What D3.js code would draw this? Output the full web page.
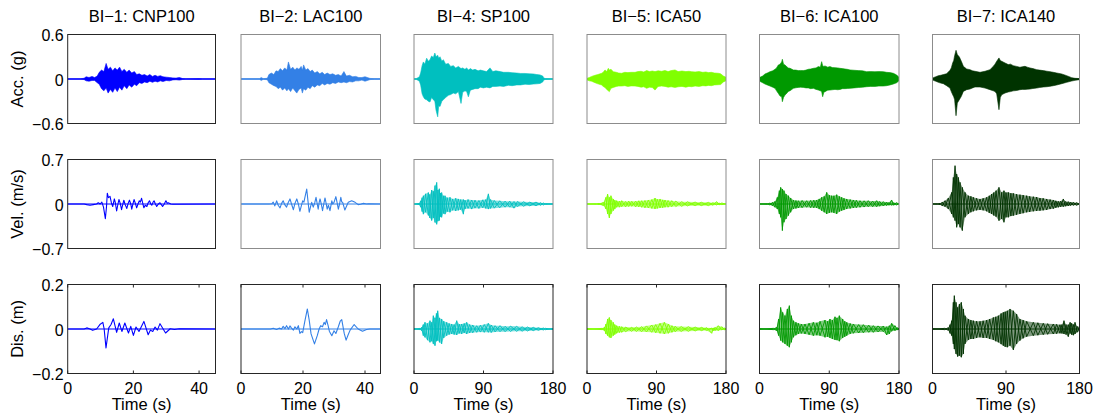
<!DOCTYPE html>
<html><head><meta charset="utf-8">
<script src="https://cdn.jsdelivr.net/npm/d3@7/dist/d3.min.js"></script>
<style>body{margin:0;background:#fff}svg{display:block}text{font-family:"Liberation Sans",Arial,Helvetica,sans-serif;fill:#000}</style>
</head><body>
<svg id="chart" width="1100" height="419"></svg>
<script>
// ---------- labels ----------
const titles = ["BI\u22121: CNP100","BI\u22122: LAC100","BI\u22124: SP100","BI\u22125: ICA50","BI\u22126: ICA100","BI\u22127: ICA140"];
const colors = ["#0000ff","#3380e6","#00bfbf","#80ff00","#009900","#003300"];
const durations = [45,45,180,180,180,180];
const xTicksShort = [0,20,40];
const xTicksLong = [0,90,180];
const rowLabels = ["Acc. (g)","Vel. (m/s)","Dis. (m)"];
const rowLimits = [0.6,0.7,0.2];
const yTickLabels = [["0.6","0","\u22120.6"],["0.7","0","\u22120.7"],["0.2","0","\u22120.2"]];

// ---------- envelopes [t, upper, lower] and series [t, value] ----------
const accCNP100 = [[0,0.004,-0.004],[4,0.004,-0.004],[5,0.01,-0.008],[5.6,0.03,-0.025],[6.5,0.02,-0.03],[7.4,0.035,-0.02],[8.2,0.02,-0.02],[9,0.04,-0.05],[9.6,0.09,-0.07],[10.3,0.12,-0.13],[11,0.10,-0.16],[11.7,0.21,-0.12],[12.3,0.13,-0.19],[13,0.16,-0.14],[13.7,0.11,-0.18],[14.4,0.15,-0.12],[15.1,0.12,-0.17],[15.8,0.16,-0.11],[16.5,0.10,-0.15],[17.2,0.13,-0.09],[18,0.09,-0.13],[18.7,0.12,-0.08],[19.5,0.08,-0.11],[20.3,0.10,-0.07],[21,0.06,-0.09],[21.8,0.07,-0.05],[22.6,0.05,-0.06],[23.4,0.06,-0.04],[24.2,0.04,-0.05],[25,0.06,-0.03],[25.8,0.035,-0.045],[26.6,0.05,-0.03],[27.4,0.035,-0.04],[28.2,0.045,-0.025],[29,0.03,-0.035],[30,0.025,-0.02],[31,0.02,-0.025],[32,0.015,-0.012],[33,0.012,-0.01],[34,0.02,-0.015],[35,0.006,-0.006],[36,0.004,-0.004],[40,0.006,-0.006],[41,0.003,-0.003],[45,0.003,-0.003]];
const velCNP100 = [[0,0],[5,0],[5.8,-0.01],[6.8,-0.02],[7.8,-0.01],[8.8,0],[9.3,0.02],[9.9,0],[10.4,0.03],[10.9,-0.05],[11.46,-0.23],[11.8,-0.05],[12.06,0.17],[12.4,0.10],[12.88,0.12],[13.3,0.02],[13.7,-0.04],[14.2,0.08],[14.5,0.02],[14.9,-0.11],[15.3,0],[15.6,0.07],[16,0.01],[16.4,-0.09],[16.8,0],[17.1,0.06],[17.5,-0.01],[18,-0.07],[18.4,0.01],[18.8,0.06],[19.2,0],[19.5,-0.08],[19.9,0.01],[20.2,0.07],[20.6,0.01],[21,-0.06],[21.4,0],[21.8,0.05],[22.1,0.03],[22.5,0.09],[22.9,0],[23.2,-0.06],[23.6,-0.02],[24.1,-0.04],[24.5,0.02],[24.9,0.05],[25.3,0],[25.6,-0.02],[26,0.03],[26.3,0.05],[26.7,0],[27.1,-0.04],[27.6,0],[28.1,0.02],[28.5,-0.01],[28.9,-0.04],[29.4,0],[29.9,0.05],[30.3,0.01],[30.6,0.02],[31.4,0],[32,-0.005],[45,0]];
const disCNP100 = [[0,0],[5,0],[5.8,0.005],[6.8,0],[7.6,-0.006],[8.8,0],[9.8,0.02],[10.7,0.03],[11.1,0],[11.66,-0.085],[12.5,0.005],[13.2,0.02],[13.9,0.046],[14.9,-0.015],[15.7,0.027],[16.5,-0.011],[17.4,0.027],[18.5,-0.018],[19.2,0.012],[20,-0.029],[20.8,0.009],[21.2,0],[21.7,-0.011],[23.2,0.034],[24.5,-0.026],[25.2,-0.005],[25.9,-0.011],[26.6,0.009],[27.3,-0.005],[28.1,0.024],[29.8,-0.018],[31.2,0.001],[32.5,-0.002],[34,0.001],[45,0]];

const accLAC100 = [[0,0.003,-0.003],[6,0.003,-0.003],[6.5,0.02,-0.02],[7.2,0.004,-0.004],[8.5,0.01,-0.01],[9,0.06,-0.05],[9.8,0.08,-0.07],[10.6,0.06,-0.09],[11.3,0.11,-0.10],[12,0.10,-0.13],[12.7,0.14,-0.11],[13.4,0.11,-0.15],[14.1,0.15,-0.12],[14.8,0.12,-0.16],[15.3,0.23,-0.13],[16,0.13,-0.17],[16.7,0.16,-0.12],[17.4,0.12,-0.16],[18,0.15,-0.19],[18.7,0.13,-0.14],[19.4,0.17,-0.12],[19.8,0.12,-0.19],[20.2,0.19,-0.13],[20.9,0.12,-0.15],[21.6,0.14,-0.11],[22.3,0.10,-0.13],[23,0.12,-0.09],[23.8,0.08,-0.11],[24.6,0.10,-0.08],[25.4,0.07,-0.09],[26.2,0.09,-0.06],[27,0.06,-0.08],[27.8,0.08,-0.06],[28.7,0.06,-0.07],[29.6,0.07,-0.05],[30.5,0.05,-0.06],[31.4,0.06,-0.04],[32.3,0.04,-0.05],[33.2,0.10,-0.04],[34,0.04,-0.05],[35,0.05,-0.035],[36,0.03,-0.04],[37,0.035,-0.025],[38,0.02,-0.025],[39,0.02,-0.015],[40,0.03,-0.03],[40.8,0.02,-0.02],[41.6,0.008,-0.008],[43,0.005,-0.005],[45,0.004,-0.004]];
const velLAC100 = [[0,0],[9,0],[10,0.005],[10.4,0.03],[10.9,-0.03],[11.5,0.05],[12,-0.02],[12.6,-0.06],[13.1,0.01],[13.6,0.05],[14.1,-0.01],[14.7,-0.05],[15.2,0.02],[15.8,0.08],[16.3,0],[16.9,-0.09],[17.4,0.01],[18,0.08],[18.5,0],[19,-0.115],[19.5,-0.02],[19.9,0.05],[20.3,0.03],[20.6,0.10],[21.2,0.236],[21.6,0.05],[22,-0.13],[22.4,-0.05],[22.8,0.026],[23.3,-0.05],[23.8,0.02],[24.2,0.105],[24.6,0],[24.9,-0.08],[25.2,0.02],[25.5,0.08],[25.9,0],[26.3,-0.105],[26.7,0],[27.1,0.095],[27.5,0],[27.8,-0.08],[28.2,-0.02],[28.7,-0.105],[29.3,0.05],[29.6,0],[30,0.026],[30.6,0.115],[31,0.02],[31.4,-0.08],[31.8,0],[32.2,0.105],[32.5,0.03],[32.8,0.026],[33.5,-0.095],[34,-0.04],[34.6,0.026],[35.7,0.05],[36.8,0.026],[37.8,-0.01],[38.6,-0.005],[39.5,0.01],[40.5,0],[41.1,0.003],[45,0]];
const disLAC100 = [[0,0],[9.5,0],[10.4,0.003],[11.5,-0.002],[12.3,0.004],[13.1,0],[13.6,0.012],[14.2,0.002],[14.7,0.015],[15.3,0],[15.8,0.014],[16.3,0.004],[16.9,-0.005],[17.4,0.01],[18,0],[18.5,0.015],[19,-0.02],[19.5,-0.012],[19.9,-0.016],[20.6,0.035],[21.4,0.09],[22,0.04],[22.6,-0.022],[23.7,-0.067],[24.6,-0.03],[25.2,0],[25.7,0.015],[26.3,0.01],[26.8,0.03],[27.2,0.02],[27.6,0.042],[28.1,0.015],[28.5,-0.01],[29.3,-0.03],[29.8,-0.015],[30,-0.008],[30.6,-0.02],[31.4,0.01],[32,0.035],[32.5,0.042],[33.3,-0.02],[33.9,-0.05],[34.6,-0.025],[35.2,-0.005],[36.5,0.02],[37.8,0],[39.2,-0.01],[40.5,-0.002],[41.5,0],[45,0]];

const accSP100 = [[0,0.004,-0.004],[3.5,0.008,-0.008],[7,0.03,-0.03],[8.6,0.08,-0.08],[10.5,0.18,-0.2],[12.1,0.23,-0.24],[14,0.2,-0.27],[16.4,0.28,-0.28],[18.5,0.24,-0.3],[20.7,0.26,-0.31],[22.8,0.31,-0.25],[25,0.29,-0.28],[27,0.35,-0.3],[28.5,0.3,-0.42],[30.7,0.32,-0.51],[32,0.28,-0.36],[33.7,0.3,-0.37],[36,0.24,-0.3],[38,0.26,-0.28],[41,0.2,-0.25],[44.5,0.21,-0.22],[47.5,0.17,-0.21],[50.9,0.18,-0.19],[54,0.15,-0.2],[57.5,0.17,-0.17],[60.9,0.14,-0.33],[63,0.15,-0.18],[66,0.13,-0.16],[68.2,0.15,-0.17],[70.4,0.12,-0.24],[73,0.14,-0.15],[76,0.12,-0.14],[79,0.13,-0.13],[83,0.11,-0.13],[86,0.12,-0.11],[89.8,0.11,-0.12],[94,0.1,-0.11],[98.4,0.15,-0.12],[102,0.1,-0.1],[106,0.11,-0.1],[111.4,0.1,-0.095],[116,0.09,-0.1],[122.2,0.09,-0.085],[127,0.085,-0.09],[133,0.08,-0.08],[138,0.075,-0.08],[143.8,0.075,-0.07],[149,0.07,-0.075],[154.5,0.068,-0.068],[159,0.06,-0.065],[163.2,0.055,-0.06],[166.7,0.04,-0.04],[168,0.015,-0.015],[170,0.006,-0.006],[180,0.004,-0.004]];
const velSP100 = [[0,0.003,-0.003],[7,0.01,-0.01],[8.6,0.05,-0.05],[10.5,0.1,-0.12],[12.1,0.13,-0.16],[15,0.16,-0.13],[18.6,0.18,-0.18],[20.5,0.15,-0.22],[22.9,0.22,-0.26],[25,0.2,-0.22],[27.2,0.29,-0.29],[29.4,0.34,-0.32],[31,0.22,-0.27],[32.8,0.24,-0.26],[34.3,0.17,-0.2],[35.8,0.18,-0.21],[38,0.13,-0.15],[40.2,0.13,-0.16],[43,0.1,-0.12],[46.6,0.105,-0.13],[50,0.08,-0.1],[54,0.09,-0.11],[57.4,0.08,-0.1],[60.5,0.07,-0.09],[63.9,0.07,-0.16],[66,0.06,-0.08],[70,0.07,-0.07],[74.7,0.063,-0.08],[79,0.06,-0.065],[84,0.055,-0.07],[89,0.065,-0.06],[93,0.07,-0.07],[96.3,0.16,-0.08],[99,0.07,-0.07],[104,0.055,-0.065],[111,0.05,-0.06],[118,0.045,-0.05],[124,0.045,-0.05],[129.5,0.04,-0.065],[134,0.04,-0.04],[142,0.035,-0.035],[150,0.03,-0.03],[158,0.03,-0.028],[164,0.02,-0.02],[167.5,0.016,-0.016],[170,0.006,-0.006],[180,0.004,-0.004]];
const disSP100 = [[0,0.002,-0.002],[8,0.003,-0.003],[9.9,0.0075,-0.0075],[12,0.02,-0.03],[14.2,0.03,-0.0375],[17.5,0.025,-0.05],[20.7,0.0375,-0.06],[23,0.03,-0.055],[25,0.06,-0.067],[27.2,0.05,-0.075],[29,0.07,-0.055],[30.7,0.082,-0.052],[33,0.05,-0.06],[35.8,0.045,-0.067],[38.5,0.035,-0.04],[42.3,0.03,-0.03],[45.5,0.025,-0.025],[48.8,0.0225,-0.0225],[52,0.02,-0.025],[55.3,0.0375,-0.027],[58.5,0.022,-0.02],[61.7,0.0225,-0.022],[65,0.025,-0.018],[68.2,0.03,-0.0225],[72,0.02,-0.018],[76,0.018,-0.017],[81.2,0.015,-0.015],[86,0.017,-0.014],[91,0.02,-0.015],[96.3,0.0255,-0.015],[100,0.018,-0.016],[105,0.015,-0.013],[111.4,0.015,-0.012],[118,0.012,-0.012],[125,0.013,-0.011],[133,0.012,-0.0105],[140,0.01,-0.01],[147,0.009,-0.009],[154.5,0.0075,-0.0075],[161,0.006,-0.006],[167.5,0.0045,-0.0045],[170,0.003,-0.003],[180,0.002,-0.002]];

const accICA50 = [[0,0.009,-0.012],[3,0.02,-0.025],[6,0.035,-0.03],[10.4,0.05,-0.05],[14,0.06,-0.065],[19,0.077,-0.081],[21,0.09,-0.1],[23.3,0.122,-0.113],[25.5,0.1,-0.14],[27.6,0.144,-0.158],[28.9,0.12,-0.171],[31,0.13,-0.126],[34.1,0.099,-0.113],[38,0.09,-0.1],[41,0.08,-0.095],[44.9,0.077,-0.095],[49,0.09,-0.09],[53,0.086,-0.1],[57,0.09,-0.093],[62.2,0.09,-0.095],[66,0.1,-0.1],[70,0.104,-0.11],[73.5,0.095,-0.105],[77.3,0.113,-0.126],[81,0.1,-0.11],[84.5,0.108,-0.115],[88.1,0.1,-0.149],[92,0.11,-0.1],[96.7,0.104,-0.095],[101,0.115,-0.1],[105,0.1,-0.11],[109,0.113,-0.105],[114,0.122,-0.113],[118,0.1,-0.105],[123,0.108,-0.1],[128,0.1,-0.11],[132,0.104,-0.1],[135.6,0.099,-0.104],[140,0.095,-0.095],[145,0.1,-0.1],[150,0.09,-0.09],[154,0.095,-0.093],[157.2,0.086,-0.086],[161,0.09,-0.09],[165,0.081,-0.08],[170.1,0.077,-0.077],[173,0.07,-0.075],[176.6,0.04,-0.04],[180,0.023,-0.023]];
const velICA50 = [[0,0.002,-0.002],[12,0.004,-0.004],[15.5,0.01,-0.01],[21.5,0.026,-0.026],[24.5,0.105,-0.079],[26.7,0.157,-0.157],[28.9,0.105,-0.22],[31,0.131,-0.157],[34,0.079,-0.105],[36,0.06,-0.08],[38.4,0.052,-0.052],[42,0.045,-0.05],[44.9,0.052,-0.042],[50,0.04,-0.045],[54,0.045,-0.04],[57.9,0.042,-0.037],[63,0.045,-0.045],[67,0.05,-0.045],[70.8,0.052,-0.052],[75,0.055,-0.06],[79.5,0.063,-0.063],[84,0.07,-0.07],[88.1,0.094,-0.079],[91,0.075,-0.07],[94.6,0.079,-0.063],[98,0.065,-0.06],[101,0.063,-0.052],[105,0.055,-0.05],[109.7,0.052,-0.042],[115,0.045,-0.04],[122.7,0.037,-0.037],[130,0.035,-0.03],[140,0.031,-0.026],[148,0.028,-0.026],[157.2,0.026,-0.026],[163,0.02,-0.02],[168,0.037,-0.016],[171,0.015,-0.015],[174.5,0.016,-0.01],[180,0.005,-0.005]];
const disICA50 = [[0,0.002,-0.002],[20,0.003,-0.003],[22.5,0.008,-0.008],[24.5,0.0225,-0.0225],[26.7,0.045,-0.03],[28.9,0.052,-0.0375],[31,0.04,-0.04],[34,0.03,-0.03],[36,0.02,-0.025],[38.4,0.015,-0.0195],[42,0.012,-0.016],[44.9,0.0105,-0.015],[50,0.009,-0.012],[57.9,0.0075,-0.0105],[64,0.009,-0.011],[70.8,0.0105,-0.012],[77,0.014,-0.013],[83.8,0.018,-0.015],[89,0.02,-0.017],[94.6,0.0255,-0.0195],[100.2,0.03,-0.0225],[105.4,0.0225,-0.0195],[110,0.015,-0.015],[114,0.012,-0.012],[122,0.011,-0.011],[131.3,0.0105,-0.0105],[140,0.009,-0.009],[148.5,0.0075,-0.0075],[155,0.006,-0.007],[161.5,0.0045,-0.0195],[163.5,0.005,-0.008],[165.8,0.0075,-0.0075],[170,0.015,-0.0075],[174.5,0.0105,-0.0045],[178,0.004,-0.004],[180,0.002,-0.002]];

const accICA100 = [[0,0.01,-0.01],[0.6,0.0225,-0.032],[4,0.04,-0.05],[7.1,0.068,-0.068],[10,0.08,-0.08],[13.5,0.099,-0.095],[17,0.11,-0.11],[20,0.131,-0.126],[22,0.15,-0.16],[24.3,0.189,-0.194],[26.5,0.2,-0.23],[28.6,0.23,-0.239],[29.5,0.266,-0.306],[31,0.2,-0.25],[32.9,0.189,-0.216],[35.1,0.167,-0.194],[37,0.15,-0.17],[39.4,0.144,-0.158],[43.7,0.122,-0.126],[47,0.12,-0.118],[50.1,0.113,-0.113],[53,0.115,-0.11],[56.6,0.113,-0.113],[60,0.12,-0.12],[63,0.131,-0.12],[66,0.135,-0.13],[69.5,0.144,-0.126],[73,0.15,-0.14],[75.9,0.167,-0.149],[78.5,0.16,-0.16],[80.2,0.234,-0.17],[81.5,0.18,-0.239],[83,0.17,-0.18],[84.5,0.176,-0.171],[88,0.16,-0.15],[90.9,0.167,-0.149],[94,0.155,-0.145],[97.4,0.153,-0.14],[101,0.15,-0.145],[103.9,0.144,-0.14],[107,0.14,-0.13],[110.3,0.135,-0.13],[113.5,0.13,-0.128],[116.8,0.122,-0.126],[122,0.118,-0.12],[127.5,0.113,-0.115],[133,0.11,-0.11],[138.3,0.099,-0.104],[143,0.1,-0.1],[149,0.099,-0.1],[154,0.1,-0.095],[159.8,0.099,-0.095],[164,0.09,-0.09],[168.4,0.086,-0.08],[172.7,0.077,-0.068],[177,0.054,-0.05],[180,0.0225,-0.0225]];
const velICA100 = [[0,0.002,-0.002],[10,0.005,-0.005],[13.5,0.015,-0.015],[17,0.026,-0.03],[20,0.042,-0.052],[23,0.105,-0.079],[25.6,0.21,-0.157],[27.3,0.262,-0.21],[29.5,0.236,-0.419],[31.6,0.21,-0.288],[34.2,0.157,-0.236],[37.2,0.131,-0.183],[40.2,0.094,-0.131],[43.7,0.063,-0.079],[47,0.055,-0.07],[50.1,0.052,-0.063],[55,0.055,-0.058],[60.9,0.052,-0.052],[66,0.056,-0.058],[70,0.06,-0.06],[73.8,0.063,-0.063],[77,0.08,-0.08],[80.2,0.105,-0.105],[83.5,0.12,-0.13],[86.7,0.183,-0.157],[90,0.14,-0.14],[93.1,0.131,-0.131],[96,0.13,-0.14],[99.6,0.147,-0.157],[103,0.12,-0.12],[106,0.105,-0.105],[109,0.09,-0.095],[112.5,0.079,-0.079],[117,0.07,-0.07],[121.1,0.063,-0.063],[125,0.058,-0.058],[129.7,0.052,-0.052],[135,0.05,-0.048],[140.4,0.052,-0.042],[146,0.045,-0.042],[151.2,0.052,-0.042],[155,0.04,-0.035],[159.8,0.037,-0.031],[164,0.03,-0.025],[167,0.025,-0.02],[170.5,0.063,-0.021],[173,0.02,-0.018],[177,0.021,-0.016],[180,0.008,-0.008]];
const disICA100 = [[0,0.002,-0.002],[18,0.003,-0.003],[22.2,0.0075,-0.0075],[24.7,0.045,-0.03],[27.3,0.097,-0.052],[29.9,0.075,-0.06],[32.9,0.06,-0.067],[35.9,0.09,-0.075],[38.5,0.105,-0.082],[41.1,0.06,-0.06],[43.7,0.0375,-0.0375],[47,0.03,-0.028],[50.1,0.0255,-0.0225],[54,0.022,-0.02],[58.7,0.0225,-0.0225],[64,0.026,-0.026],[69.5,0.03,-0.03],[74,0.028,-0.028],[78.1,0.0345,-0.03],[84.5,0.04,-0.0375],[88,0.035,-0.035],[90.9,0.045,-0.04],[94,0.04,-0.045],[97.4,0.055,-0.049],[100,0.05,-0.05],[103,0.06,-0.055],[107.3,0.045,-0.04],[110,0.035,-0.035],[112.5,0.03,-0.03],[117,0.025,-0.022],[121.1,0.0225,-0.0195],[128,0.02,-0.018],[134,0.0195,-0.0165],[141,0.017,-0.015],[146.9,0.015,-0.015],[153,0.014,-0.013],[159.8,0.0135,-0.012],[164.1,0.0105,-0.027],[167.5,0.015,-0.0225],[170.5,0.0255,-0.0105],[174.8,0.015,-0.0075],[178,0.006,-0.005],[180,0.0045,-0.0045]];

const accICA140 = [[0,0.008,-0.008],[1,0.018,-0.018],[4,0.03,-0.03],[7.1,0.045,-0.045],[10,0.05,-0.055],[13.3,0.059,-0.063],[17.3,0.072,-0.09],[21.4,0.117,-0.122],[23,0.15,-0.17],[24.7,0.216,-0.212],[26,0.25,-0.24],[27.1,0.315,-0.279],[28.8,0.387,-0.495],[30.4,0.329,-0.324],[32.9,0.297,-0.279],[35.3,0.239,-0.234],[37.8,0.171,-0.167],[41.8,0.135,-0.144],[45.9,0.126,-0.135],[49,0.11,-0.12],[52,0.104,-0.108],[58.2,0.09,-0.108],[64.3,0.104,-0.122],[70.4,0.126,-0.144],[74.5,0.171,-0.16],[76.5,0.2,-0.167],[78.6,0.239,-0.2],[81.4,0.284,-0.414],[83,0.25,-0.25],[84.7,0.239,-0.212],[88.8,0.216,-0.189],[92.8,0.194,-0.175],[95.5,0.2,-0.17],[98.9,0.18,-0.16],[103,0.17,-0.155],[107.1,0.158,-0.144],[110,0.165,-0.14],[113.3,0.171,-0.14],[116,0.16,-0.138],[119.4,0.149,-0.135],[123,0.14,-0.128],[127.6,0.126,-0.122],[131,0.12,-0.115],[135.7,0.113,-0.108],[140,0.105,-0.104],[143.9,0.099,-0.099],[148,0.09,-0.09],[152,0.081,-0.081],[158.2,0.068,-0.063],[164.3,0.045,-0.045],[170.4,0.018,-0.027],[174.5,0.009,-0.018],[180,0.006,-0.009]];
const velICA140 = [[0,0.002,-0.002],[6,0.004,-0.004],[9.2,0.01,-0.01],[12,0.03,-0.03],[15.3,0.052,-0.042],[19.4,0.094,-0.079],[23.5,0.183,-0.157],[25.5,0.419,-0.21],[27.6,0.603,-0.262],[29.6,0.472,-0.367],[31.6,0.419,-0.314],[33.7,0.341,-0.367],[36.5,0.262,-0.419],[39.8,0.183,-0.21],[43.9,0.131,-0.157],[47,0.12,-0.13],[50,0.105,-0.115],[54,0.09,-0.1],[58.2,0.079,-0.094],[62,0.09,-0.1],[66.3,0.105,-0.115],[69.5,0.13,-0.14],[72.4,0.157,-0.157],[75,0.18,-0.18],[77.8,0.21,-0.199],[81.4,0.262,-0.262],[84.7,0.183,-0.236],[87.5,0.21,-0.288],[90,0.18,-0.21],[92.8,0.183,-0.21],[96,0.17,-0.19],[98.9,0.168,-0.183],[103,0.155,-0.17],[107.1,0.147,-0.157],[111,0.14,-0.145],[115.3,0.131,-0.131],[119,0.12,-0.125],[123.5,0.115,-0.115],[127.5,0.11,-0.11],[131.6,0.094,-0.105],[135.5,0.09,-0.1],[139.8,0.079,-0.094],[144,0.07,-0.08],[148,0.063,-0.073],[151,0.05,-0.06],[154.1,0.042,-0.052],[157,0.045,-0.045],[160.2,0.079,-0.042],[163,0.04,-0.035],[166.3,0.037,-0.031],[169,0.03,-0.025],[172.4,0.026,-0.021],[176.5,0.021,-0.021],[180,0.01,-0.01]];
const disICA140 = [[0,0.002,-0.002],[15,0.003,-0.003],[19.4,0.006,-0.006],[21.5,0.02,-0.02],[23.5,0.0375,-0.03],[25.5,0.12,-0.067],[26.7,0.15,-0.09],[28.8,0.12,-0.112],[30.8,0.097,-0.124],[32.9,0.112,-0.12],[35.3,0.12,-0.127],[37.8,0.09,-0.112],[39.8,0.06,-0.067],[43.9,0.045,-0.049],[47,0.04,-0.045],[50,0.0375,-0.045],[54,0.035,-0.04],[58.2,0.0345,-0.0375],[62,0.037,-0.04],[66.3,0.04,-0.04],[70,0.045,-0.045],[74.5,0.052,-0.049],[77.5,0.055,-0.055],[80.6,0.06,-0.06],[84,0.07,-0.068],[86.7,0.075,-0.075],[89,0.078,-0.08],[91.6,0.082,-0.082],[94.9,0.09,-0.075],[99,0.082,-0.094],[103,0.067,-0.067],[107.1,0.045,-0.052],[111,0.04,-0.042],[115.3,0.0345,-0.0345],[123.5,0.03,-0.03],[129,0.028,-0.028],[135.7,0.0255,-0.0255],[141,0.024,-0.024],[148,0.0225,-0.0225],[152,0.021,-0.021],[156.1,0.0195,-0.0195],[158.5,0.02,-0.02],[161,0.0375,-0.0225],[163.5,0.02,-0.025],[166.3,0.0195,-0.0345],[168.5,0.03,-0.02],[170.4,0.0255,-0.0255],[172.5,0.02,-0.028],[174.5,0.03,-0.0225],[177,0.012,-0.015],[180,0.0105,-0.0105]];

// ---------- panel table built from the arrays ----------
const panels = [
  {rows:[{kind:"env",d:accCNP100},{kind:"line",d:velCNP100},{kind:"line",d:disCNP100}]},
  {rows:[{kind:"env",d:accLAC100},{kind:"line",d:velLAC100},{kind:"line",d:disLAC100}]},
  {rows:[{kind:"env",d:accSP100},{kind:"band",d:velSP100},{kind:"band",d:disSP100}]},
  {rows:[{kind:"env",d:accICA50},{kind:"band",d:velICA50},{kind:"band",d:disICA50}]},
  {rows:[{kind:"env",d:accICA100},{kind:"band",d:velICA100},{kind:"band",d:disICA100}]},
  {rows:[{kind:"env",d:accICA140},{kind:"band",d:velICA140},{kind:"band",d:disICA140}]}
];

// ---------- layout ----------
const colLeft  = [67.7,241,414,587,759.5,932.5];
const colRight = [215.5,380.5,553,726,899,1079.5];
const rowTop = [34.5,159.5,284.5];
const rowH = 89;

const svg = d3.select("#chart");
const defs = svg.append("defs");

panels.forEach((p,ci)=>{
  const L = colLeft[ci], R = colRight[ci];
  const x = d3.scaleLinear().domain([0,durations[ci]]).range([L,R]);
  svg.append("text").attr("x",(L+R)/2).attr("y",21.5).attr("text-anchor","middle")
     .style("font-size","16.5px").text(titles[ci]);
  p.rows.forEach((r,ri)=>{
    const T = rowTop[ri], B = T+rowH, lim = rowLimits[ri];
    const y = d3.scaleLinear().domain([-lim,lim]).range([B,T]);
    const cid = "clip"+ci+"_"+ri;
    defs.append("clipPath").attr("id",cid).append("rect")
        .attr("x",L).attr("y",T).attr("width",R-L).attr("height",rowH);
    const g = svg.append("g").attr("clip-path","url(#"+cid+")");
    g.append("path").attr("d",d3.line()([[x(0),y(0)],[x(durations[ci]),y(0)]]))
     .attr("stroke",colors[ci]).attr("stroke-width",1).attr("fill","none");
    if(r.kind==="env"){
      const area = d3.area().x(d=>x(d[0])).y0(d=>y(d[2])).y1(d=>y(d[1]));
      g.append("path").attr("d",area(r.d)).attr("fill",colors[ci])
       .attr("stroke",colors[ci]).attr("stroke-width",0.6);
    } else if(r.kind==="band"){
      const area = d3.area().x(d=>x(d[0])).y0(d=>y(d[2])).y1(d=>y(d[1]));
      g.append("path").attr("d",area(r.d)).attr("fill",colors[ci]).attr("fill-opacity",0.5);
      const zz1 = d3.line().x(d=>x(d[0])).y((d,i)=>y(i%2?d[2]:d[1]));
      const zz2 = d3.line().x(d=>x(d[0])).y((d,i)=>y(i%2?d[1]:d[2]));
      [zz1,zz2].forEach(f=>g.append("path").attr("d",f(r.d)).attr("fill","none")
        .attr("stroke",colors[ci]).attr("stroke-width",0.9));
    } else {
      const line = d3.line().x(d=>x(d[0])).y(d=>y(d[1]));
      g.append("path").attr("d",line(r.d)).attr("fill","none")
       .attr("stroke",colors[ci]).attr("stroke-width",1.1).attr("stroke-linejoin","round");
    }
    const dark = (ci===0 || ri===2);
    svg.append("rect").attr("x",L).attr("y",T).attr("width",R-L).attr("height",rowH)
       .attr("fill","none").attr("stroke",dark?"#262626":"#8c8c8c").attr("stroke-width",1);
    if(ri===2){
      const ticks = durations[ci]===45 ? xTicksShort : xTicksLong;
      ticks.forEach(tv=>{
        const xx = x(tv);
        svg.append("line").attr("x1",xx).attr("x2",xx).attr("y1",B).attr("y2",B-3).attr("stroke","#262626");
        svg.append("line").attr("x1",xx).attr("x2",xx).attr("y1",T).attr("y2",T+3).attr("stroke","#262626");
        svg.append("text").attr("x",xx).attr("y",393.5).attr("text-anchor","middle")
           .style("font-size","16px").text(tv);
      });
      svg.append("text").attr("x",(L+R)/2).attr("y",410).attr("text-anchor","middle")
         .style("font-size","16.5px").text("Time (s)");
    }
    if(ci===0){
      [lim,0,-lim].forEach((v,k)=>{
        svg.append("text").attr("x",L-4).attr("y",y(v)+6.5).attr("text-anchor","end")
           .style("font-size","16px").text(yTickLabels[ri][k]);
      });
      svg.append("text").attr("transform","translate(22.5,"+(T+rowH/2)+") rotate(-90)")
         .attr("text-anchor","middle").style("font-size","16.5px").text(rowLabels[ri]);
    }
  });
});
</script>
</body></html>
